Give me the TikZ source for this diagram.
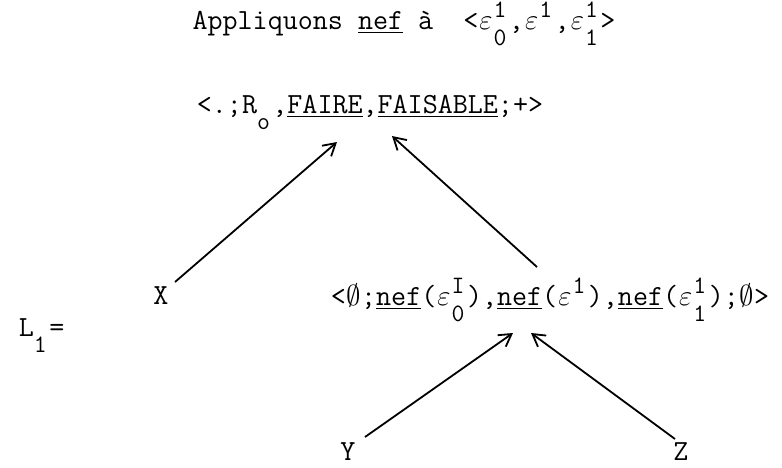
\documentclass[tikz,border=0pt]{standalone}
\usetikzlibrary{arrows.meta,calc}
\newcommand\ep{\makebox[0.525em]{$\varepsilon$}}
\newcommand\nul{\makebox[0.525em]{$\emptyset$}}
\newcommand\hi[1]{\makebox[0.525em][l]{\raisebox{0.38em}{\fontsize{12.5}{12.5}\selectfont#1}}}
\newcommand\lo[1]{\makebox[0.525em][l]{\raisebox{-0.58em}{\fontsize{12.5}{12.5}\selectfont#1}}}
\newcommand\hilo[2]{\rlap{\hi{#1}}\lo{#2}}
\begin{document}
\begin{tikzpicture}[x=0.5pt,y=-0.5pt,->,>={Straight Barb[length=6pt,width=7pt]},line width=0.9pt,
  txt/.style={inner sep=0pt,anchor=base,font=\fontsize{14.6}{17}\selectfont\ttfamily}]
\useasboundingbox (0,0) rectangle (782,467);
\node[txt] (title) at (404,29) {Appliquons \underline{nef} à\ \ <\ep\hilo{1}{0},\ep\hi{1},\ep\hilo{1}{1}>};
\node[txt] (top) at (370,113) {<.;R\lo{o},\underline{FAIRE},\underline{FAISABLE};+>};
\node[txt] (X) at (161,304) {X};
\node[txt] (mid) at (550,305) {<\nul;\underline{nef}(\ep\hilo{I}{0}),\underline{nef}(\ep\hi{1}),\underline{nef}(\ep\hilo{1}{1});\nul>};
\node[txt,anchor=base west] (L) at (18,336) {L\lo{1}=};
\node[txt] (Y) at (348,460) {Y};
\node[txt] (Z) at (681,460) {Z};
\draw ($(X.base)+(14,-22)$) -- ($(top.base)+(-33,29)$);
\draw ($(mid.base)+(-13,-38)$) -- ($(top.base)+(22,23)$);
\draw ($(Y.base)+(17,-23)$) -- ($(mid.base)+(-37,28)$);
\draw ($(Z.base)+(-6,-21)$) -- ($(mid.base)+(-19,28)$);
\end{tikzpicture}
\end{document}
